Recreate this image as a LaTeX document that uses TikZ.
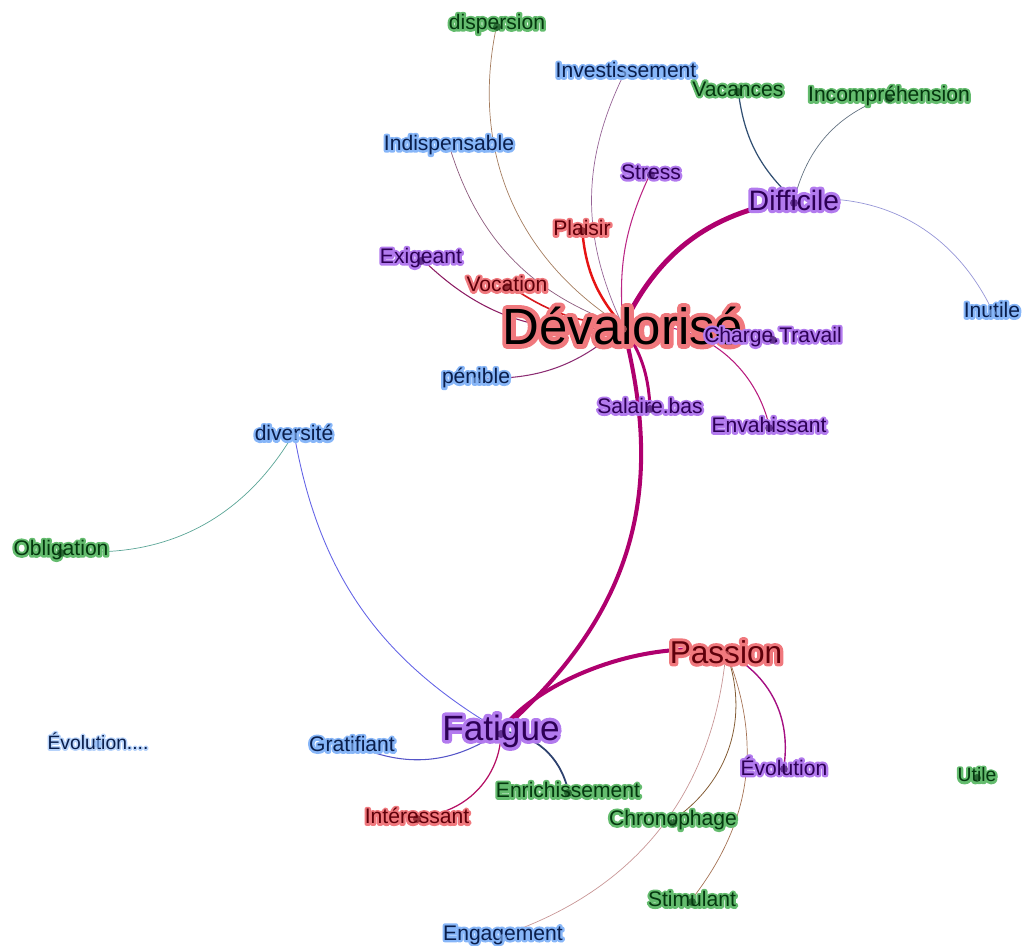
\documentclass[tikz,border=0pt]{standalone}
\usepackage{fontspec}
\setmainfont{Liberation Sans}
\usetikzlibrary{positioning,backgrounds}

\definecolor{redtxt}{RGB}{95,0,10}
\definecolor{redhalo}{RGB}{240,120,125}
\definecolor{purtxt}{RGB}{45,0,85}
\definecolor{purhalo}{RGB}{178,122,238}
\definecolor{bluetxt}{RGB}{10,30,75}
\definecolor{bluehalo}{RGB}{135,182,248}
\definecolor{grntxt}{RGB}{5,55,15}
\definecolor{grnhalo}{RGB}{100,188,110}
\definecolor{magedge}{RGB}{175,0,110}

% glow behind a word: stroked copy, then the word
\newcommand{\halo}[3][2.6]{\leavevmode\rlap{\special{pdf:literal direct 1 Tr #1 w 1 j 1 J}\textcolor{#2}{#3}\special{pdf:literal direct 0 Tr}}#3}

\begin{document}
\begin{tikzpicture}[
    x=0.02cm, y=0.02cm,
    lbl/.style={inner sep=1pt, font=\fontsize{12}{14}\selectfont},
    redlbl/.style={lbl, text=redtxt},
    purlbl/.style={lbl, text=purtxt},
    bluelbl/.style={lbl, text=bluetxt},
    grnlbl/.style={lbl, text=grntxt},
    edge/.style={line cap=round},
    dot/.style={opacity=0.6}
]
\useasboundingbox (0,0) rectangle (1024,-946);

% Hub words
\node[redlbl, text=black, font=\fontsize{29}{32}\selectfont] (deval) at (623,-326) {\halo[5]{redhalo}{Dévalorisé}};
\node[purlbl, font=\fontsize{16}{18}\selectfont] (difficile) at (794,-200) {\halo[3.4]{purhalo}{Difficile}};
\node[redlbl, font=\fontsize{18}{20}\selectfont] (passion) at (726,-652) {\halo[3.6]{redhalo}{Passion}};
\node[purlbl, font=\fontsize{20}{22}\selectfont] (fatigue) at (501,-731) {\halo[4]{purhalo}{Fatigue}};

% Upper words
\node[grnlbl] (dispersion) at (497,-24) {\halo{grnhalo}{dispersion}};
\node[bluelbl] (invest) at (626,-70) {\halo{bluehalo}{Investissement}};
\node[grnlbl] (vacances) at (738,-89) {\halo{grnhalo}{Vacances}};
\node[grnlbl] (incomp) at (889,-96) {\halo{grnhalo}{Incompréhension}};
\node[bluelbl] (indisp) at (449,-145) {\halo{bluehalo}{Indispensable}};
\node[purlbl] (stress) at (651,-172) {\halo{purhalo}{Stress}};
\node[redlbl] (plaisir) at (582,-228) {\halo{redhalo}{Plaisir}};
\node[purlbl] (exigeant) at (421,-258) {\halo{purhalo}{Exigeant}};
\node[redlbl] (vocation) at (507,-284) {\halo{redhalo}{Vocation}};
\node[bluelbl] (inutile) at (992,-310) {\halo{bluehalo}{Inutile}};
\node[purlbl] (charge) at (773,-337) {\halo{purhalo}{Charge.Travail}};
\node[bluelbl] (penible) at (476,-378) {\halo{bluehalo}{pénible}};
\node[purlbl] (salaire) at (650,-406) {\halo{purhalo}{Salaire.bas}};
\node[purlbl] (envahis) at (769,-425) {\halo{purhalo}{Envahissant}};

% Middle and lower words
\node[bluelbl] (diversite) at (294,-433) {\halo{bluehalo}{diversité}};
\node[grnlbl] (oblig) at (61,-550) {\halo{grnhalo}{Obligation}};
\node[bluelbl, font=\fontsize{11}{13}\selectfont] (evolpts) at (98,-741) {\halo[1.8]{bluehalo!60}{Évolution....}};
\node[bluelbl] (gratif) at (352,-744) {\halo{bluehalo}{Gratifiant}};
\node[purlbl] (evolution) at (784,-766) {\halo{purhalo}{Évolution}};
\node[grnlbl, font=\fontsize{11}{13}\selectfont] (utile) at (977,-775) {\halo{grnhalo}{Utile}};
\node[grnlbl] (enrich) at (568,-790) {\halo{grnhalo}{Enrichissement}};
\node[redlbl] (interes) at (417,-816) {\halo{redhalo}{Intéressant}};
\node[grnlbl] (chrono) at (673,-820) {\halo{grnhalo}{Chronophage}};
\node[grnlbl] (stimul) at (692,-899) {\halo{grnhalo}{Stimulant}};
\node[bluelbl] (engage) at (503,-935) {\halo{bluehalo}{Engagement}};

\begin{scope}[on background layer]
% Edges of Dévalorisé
\draw[edge, color={rgb,255:red,165;green,125;blue,95}, line width=0.4pt] (deval.center) to[bend left=35] (dispersion.center);
\draw[edge, color={rgb,255:red,150;green,100;blue,150}, line width=0.4pt] (deval.center) to[bend left=26] (invest.center);
\draw[edge, color={rgb,255:red,140;green,90;blue,125}, line width=0.4pt] (deval.center) to[bend left=27] (indisp.center);
\draw[edge, color=magedge!85, line width=0.6pt] (deval.center) to[bend left=15] (stress.center);
\draw[edge, color={rgb,255:red,230;green,20;blue,20}, line width=1.4pt] (deval.center) to[bend left=18] (plaisir.center);
\draw[edge, color=magedge, line width=2.8pt] (deval.center) to[bend left=28] (difficile.center);
\draw[edge, color={rgb,255:red,140;green,30;blue,100}, line width=0.6pt] (deval.center) to[bend left=26] (exigeant.center);
\draw[edge, color={rgb,255:red,215;green,25;blue,30}, line width=0.9pt] (deval.center) to[bend left=15] (vocation.center);
\draw[edge, color={rgb,255:red,140;green,45;blue,115}, line width=0.6pt] (deval.center) to[bend left=22] (penible.center);
\draw[edge, color={rgb,255:red,185;green,30;blue,80}, line width=0.6pt] (deval.center) to[bend left=10] (charge.center);
\draw[edge, color=magedge!90, line width=0.6pt] (deval.center) to[bend left=42] (envahis.center);
\draw[edge, color=magedge, line width=1.7pt] (deval.center) to[bend left=15] (salaire.center);
\draw[edge, color=magedge, line width=2.3pt] (deval.center) .. controls (660,-470) and (650,-600) .. (fatigue.center);

% Edges of Difficile
\draw[edge, color={rgb,255:red,50;green,80;blue,115}, line width=0.7pt] (difficile.center) to[bend left=20] (vacances.center);
\draw[edge, color={rgb,255:red,100;green,115;blue,130}, line width=0.4pt] (difficile.center) to[bend left=28] (incomp.center);
\draw[edge, color={rgb,255:red,150;green,150;blue,215}, line width=0.4pt] (difficile.center) to[bend left=35] (inutile.center);

% Edges of Passion
\draw[edge, color=magedge, line width=2.3pt] (passion.center) .. controls (640,-638) and (535,-683) .. (fatigue.center);
\draw[edge, color={rgb,255:red,165;green,15;blue,130}, line width=0.8pt] (passion.center) to[bend left=35] (evolution.center);
\draw[edge, color={rgb,255:red,130;green,90;blue,50}, line width=0.45pt] (passion.center) to[bend left=38] (chrono.center);
\draw[edge, color={rgb,255:red,165;green,115;blue,85}, line width=0.4pt] (passion.center) to[bend left=30] (stimul.center);
\draw[edge, color={rgb,255:red,200;green,150;blue,150}, line width=0.4pt] (passion.center) to[bend left=33] (engage.center);

% Edges of Fatigue
\draw[edge, color={rgb,255:red,85;green,85;blue,200}, line width=0.6pt] (fatigue.center) to[bend left=30] (gratif.center);
\draw[edge, color={rgb,255:red,180;green,15;blue,100}, line width=0.7pt] (fatigue.center) to[bend left=45] (interes.center);
\draw[edge, color={rgb,255:red,45;green,65;blue,110}, line width=1pt] (fatigue.center) to[bend left=35] (enrich.center);
\draw[edge, color={rgb,255:red,100;green,100;blue,230}, line width=0.5pt] (diversite.center) to[bend right=25] (fatigue.center);
\draw[edge, color={rgb,255:red,90;green,165;blue,150}, line width=0.4pt] (diversite.center) to[bend left=33] (oblig.center);
\end{scope}

% Node dots
\foreach \n/\c in {deval/redhalo, plaisir/redtxt, vocation/redtxt, passion/redhalo, interes/redtxt,
    difficile/purtxt, stress/purtxt, exigeant/purtxt, charge/purtxt, salaire/purtxt, envahis/purtxt, fatigue/purtxt, evolution/purtxt,
    invest/bluehalo, indisp/bluehalo, penible/bluehalo, inutile/bluehalo, diversite/bluehalo, gratif/bluehalo, engage/bluehalo, evolpts/bluehalo,
    dispersion/grntxt, vacances/grntxt, incomp/grntxt, oblig/grntxt, enrich/grntxt, chrono/grntxt, stimul/grntxt, utile/grntxt}
  \fill[dot, \c] ([yshift=-0.06cm]\n.center) circle (4);

\end{tikzpicture}
\end{document}
